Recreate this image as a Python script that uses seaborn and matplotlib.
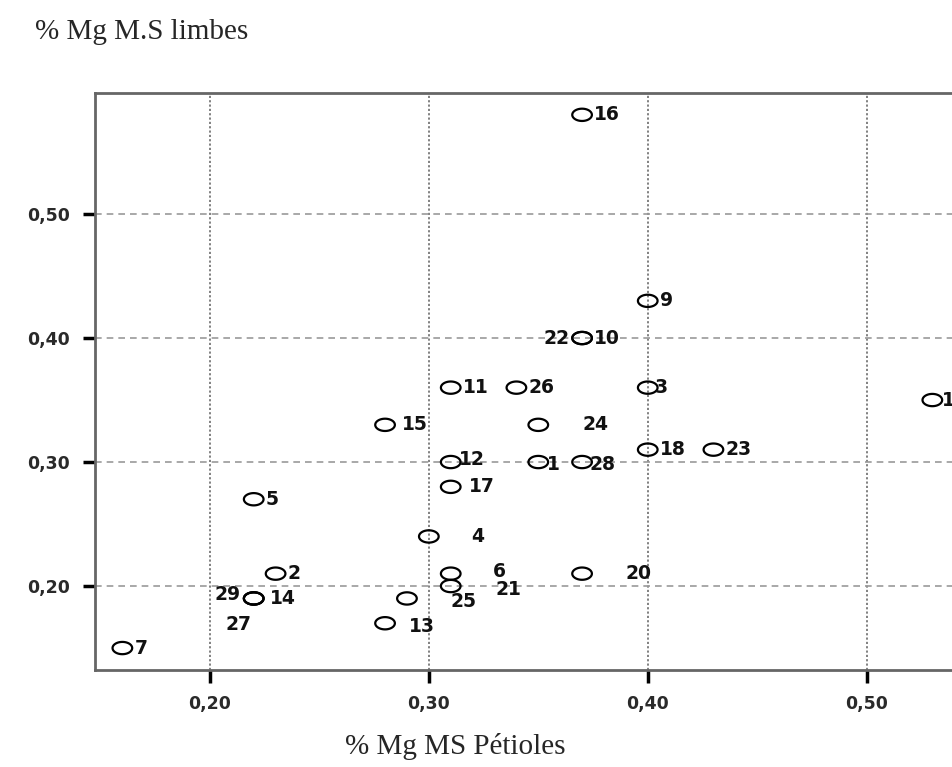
import numpy as np
import pandas as pd
import matplotlib
matplotlib.use("Agg")
import matplotlib.pyplot as plt
from matplotlib.path import Path
from matplotlib.ticker import FixedLocator, FuncFormatter
import seaborn as sns

# numéros des plants et teneurs en Mg (% MS)
numeros = ["16", "9", "10", "22", "3", "11", "26", "15", "24", "18", "23",
           "12", "1", "28", "17", "5", "4", "6", "21", "25", "20", "2",
           "14", "29", "27", "13", "7", "19"]
petioles = [0.37, 0.40, 0.37, 0.37, 0.40, 0.31, 0.34, 0.28, 0.35, 0.40, 0.43,
            0.31, 0.35, 0.37, 0.31, 0.22, 0.30, 0.31, 0.31, 0.29, 0.37, 0.23,
            0.22, 0.22, 0.22, 0.28, 0.16, 0.53]
limbes = [0.58, 0.43, 0.40, 0.40, 0.36, 0.36, 0.36, 0.33, 0.33, 0.31, 0.31,
          0.30, 0.30, 0.30, 0.28, 0.27, 0.24, 0.21, 0.20, 0.19, 0.21, 0.21,
          0.19, 0.19, 0.19, 0.17, 0.15, 0.35]
ticks = [0.20, 0.30, 0.40, 0.50]

df = pd.DataFrame({"num": numeros, "pet": petioles, "lim": limbes})

# décalage des étiquettes (pixels) quand elles se chevauchent
decalages = {"22": (-13, 0, "right"), "24": (44, 0, "left"), "4": (42, 0, "left"),
             "6": (42, 2, "left"), "21": (45, -3, "left"), "25": (44, -3, "left"),
             "20": (43, 0, "left"), "13": (24, -3, "left"), "29": (-13, 4, "right"),
             "27": (-28, -26, "left"), "12": (8, 3, "left"), "1": (9, -2, "left"),
             "28": (7, -2, "left"), "3": (7, 0, "left"), "15": (17, 0, "left"),
             "17": (18, 0, "left"), "14": (16, 0, "left"), "19": (10, 0, "left")}

sns.set_style("white")
plt.rcParams['font.family'] = ['DejaVu Sans']

fig = plt.figure(figsize=(9.52, 7.67), dpi=100)
ax = fig.add_axes([95 / 952, 97 / 767, 903 / 952, 577 / 767])

t = np.linspace(0, 2 * np.pi, 60)
ellipse = Path(np.column_stack([1.6 * np.cos(t), np.sin(t)]), closed=True)

sns.scatterplot(data=df, x="pet", y="lim", marker=ellipse, s=200, ax=ax,
                legend=False, zorder=3)
coll = ax.collections[0]
coll.set_facecolor("none")
coll.set_edgecolor("black")
coll.set_linewidth(1.6)

for n, x, y in zip(numeros, petioles, limbes):
    dx, dy, ha = decalages.get(n, (12, 0, "left"))
    ax.annotate(n, (x, y), xytext=(dx, dy), textcoords="offset pixels",
                ha=ha, va="center", fontsize=13.5, fontweight="bold",
                color="#111111", zorder=4, annotation_clip=False)

ax.set_xlim(0.1475, 0.56)
ax.set_ylim(0.1323, 0.5976)
ax.xaxis.set_major_locator(FixedLocator(ticks))
ax.yaxis.set_major_locator(FixedLocator(ticks))
fmt = FuncFormatter(lambda v, p: f"{v:.2f}".replace(".", ","))
ax.xaxis.set_major_formatter(fmt)
ax.yaxis.set_major_formatter(fmt)
ax.tick_params(axis="both", direction="out", length=9, width=2.5, color="black",
               labelsize=12.5, labelcolor="#2a2a2a", pad=9, bottom=True, left=True)
for lab in ax.get_xticklabels() + ax.get_yticklabels():
    lab.set_fontweight("bold")

ax.xaxis.grid(True, linestyle=(0, (1.2, 1.2)), color="#777777", linewidth=1.3)
ax.yaxis.grid(True, linestyle=(0, (4, 3)), color="#999999", linewidth=1.2)
ax.set_axisbelow(True)
for side in ["left", "bottom", "top", "right"]:
    ax.spines[side].set_color("#666666")
    ax.spines[side].set_linewidth(2)

ax.set_xlabel("")
ax.set_ylabel("")
fig.text(35 / 952, 1 - 32 / 767, "% Mg M.S limbes", family="Liberation Serif",
         fontsize=21, ha="left", va="center")
fig.text(455 / 952, 1 - 747 / 767, "% Mg MS Pétioles", family="Liberation Serif",
         fontsize=21, ha="center", va="center")

fig.savefig("out.png", dpi=100)
